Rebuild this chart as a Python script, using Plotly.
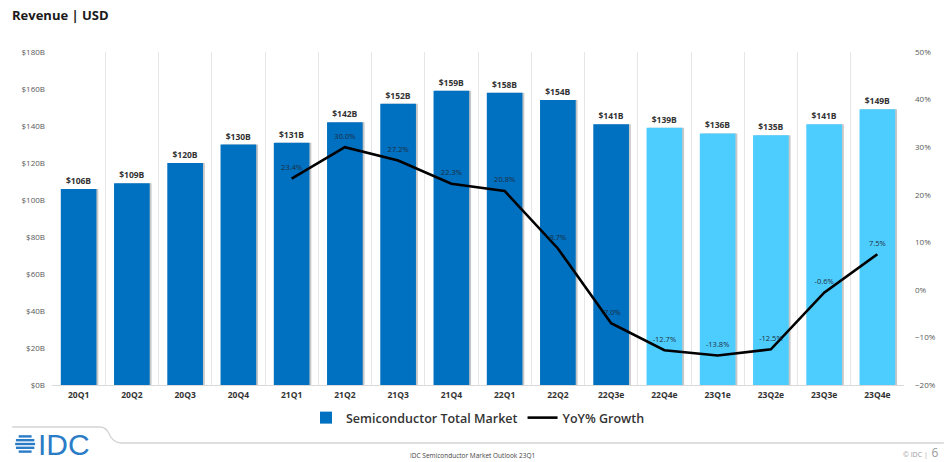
import plotly.graph_objects as go

# Quarterly semiconductor revenue (USD billions) and year-over-year growth
quarters = ["20Q1", "20Q2", "20Q3", "20Q4", "21Q1", "21Q2", "21Q3", "21Q4",
            "22Q1", "22Q2", "22Q3e", "22Q4e", "23Q1e", "23Q2e", "23Q3e", "23Q4e"]
revenue_b = [106, 109, 120, 130, 131, 142, 152, 159, 158, 154, 141, 139, 136, 135, 141, 149]
yoy_growth = [None, None, None, None, 23.4, 30.0, 27.2, 22.3, 20.8, 8.7, -7.0,
              -12.7, -13.8, -12.5, -0.6, 7.5]
is_forecast = [False] * 11 + [True] * 5

W, H = 948, 462
ML, MR, MT, MB = 52, 40, 52, 77
PW, PH = W - ML - MR, H - MT - MB

DARK_BLUE = "#0070C0"
LIGHT_BLUE = "#4DCDFE"
TEXT = "#333333"
AXIS_TEXT = "#595959"
FONT = "Open Sans"


def px(x):
    return (x - ML) / PW


def py(y):
    return (H - MB - y) / PH


bar_colors = [LIGHT_BLUE if f else DARK_BLUE for f in is_forecast]
bar_labels = [f"${v}B" for v in revenue_b]
yoy_labels = ["" if v is None else f"{v:.1f}%" for v in yoy_growth]

fig = go.Figure()

# soft drop shadow behind each column
fig.add_trace(go.Bar(
    x=quarters, y=revenue_b, width=0.67, offset=-0.30,
    marker=dict(color="rgba(0,0,0,0.22)", line=dict(width=0)),
    showlegend=False, hoverinfo="skip",
))

fig.add_trace(go.Bar(
    x=quarters, y=revenue_b, width=0.67, offset=-0.335,
    name="Semiconductor Total Market",
    marker=dict(color=bar_colors, line=dict(width=0)),
    text=bar_labels, textposition="outside", cliponaxis=False,
    textfont=dict(family=FONT, size=8.5, color=TEXT, weight="bold"),
))

fig.add_trace(go.Scatter(
    x=quarters, y=yoy_growth, yaxis="y2", name="YoY% Growth",
    mode="lines+markers+text", line=dict(color="#000000", width=2.6),
    marker=dict(size=9, color="rgba(0,0,0,0)"),
    text=yoy_labels, textposition="top center",
    textfont=dict(family=FONT, size=7.5, color="#1f2d3d"),
    connectgaps=False, cliponaxis=False,
))

fig.update_layout(
    width=W, height=H,
    margin=dict(l=ML, r=MR, t=MT, b=MB),
    paper_bgcolor="white", plot_bgcolor="white",
    barmode="overlay", bargap=0.33,
    font=dict(family=FONT, color=TEXT),
    showlegend=True,
    legend=dict(orientation="h", x=px(480), y=py(418), xanchor="center", yanchor="middle",
                font=dict(family=FONT, size=12.5, color=TEXT, weight=600),
                itemwidth=30, tracegroupgap=0),
    xaxis=dict(
        type="category", range=[-0.5, 15.5], tickson="boundaries",
        showgrid=True, gridcolor="#e6e6e6", gridwidth=1,
        showline=True, linecolor="#d9d9d9", ticks="",
        tickfont=dict(family=FONT, size=8.5, color=TEXT, weight="bold"),
        ticklabelstandoff=2,
    ),
    yaxis=dict(
        range=[0, 180], dtick=20, tickprefix="$", ticksuffix="B",
        showgrid=False, zeroline=False, showline=False, ticks="",
        tickfont=dict(family=FONT, size=8, color=AXIS_TEXT),
        ticklabelstandoff=6,
    ),
    yaxis2=dict(
        overlaying="y", side="right", range=[-20, 50], dtick=10, ticksuffix="%",
        showgrid=False, zeroline=False, showline=False, ticks="",
        tickfont=dict(family=FONT, size=8, color=AXIS_TEXT),
        ticklabelstandoff=10,
    ),
    hovermode=False,
)

annotations = [
    dict(text="<b>Revenue | USD</b>", x=px(10), y=py(15), xanchor="left", yanchor="middle",
         font=dict(family=FONT, size=13, color="#1a1a1a")),
    dict(text="IDC", x=px(36), y=py(444), xanchor="left", yanchor="middle",
         font=dict(family="Liberation Sans", size=30, color="#2B7CC7")),
    dict(text="IDC Semiconductor Market Outlook 23Q1", x=px(474), y=py(455),
         xanchor="center", yanchor="middle",
         font=dict(family=FONT, size=6.5, color="#444444")),
    dict(text="© IDC |  <span style='font-size:12px'>6</span>", x=px(944), y=py(452),
         xanchor="right", yanchor="middle",
         font=dict(family=FONT, size=7, color="#9a9a9a")),
]
for a in annotations:
    a.update(xref="paper", yref="paper", showarrow=False)
fig.update_layout(annotations=annotations)

# footer divider line with a rounded step
path = (f"M {px(12)},{py(427)} L {px(100)},{py(427)} "
        f"Q {px(106)},{py(427)} {px(109)},{py(433)} "
        f"Q {px(113)},{py(443)} {px(122)},{py(443)} "
        f"L {px(948)},{py(443)}")
shapes = [dict(type="path", path=path, xref="paper", yref="paper",
               line=dict(color="#d4d4d4", width=1.3))]

# striped globe of the logo
cx, cy, r = 25, 444, 10
for dy in (-7.6, -3.8, 0, 3.8, 7.6):
    half = (r * r - dy * dy) ** 0.5
    shapes.append(dict(type="line", xref="paper", yref="paper",
                       x0=px(cx - half), x1=px(cx + half), y0=py(cy + dy), y1=py(cy + dy),
                       line=dict(color="#2B7CC7", width=2.4)))
fig.update_layout(shapes=shapes)

fig.write_html("out.html")
